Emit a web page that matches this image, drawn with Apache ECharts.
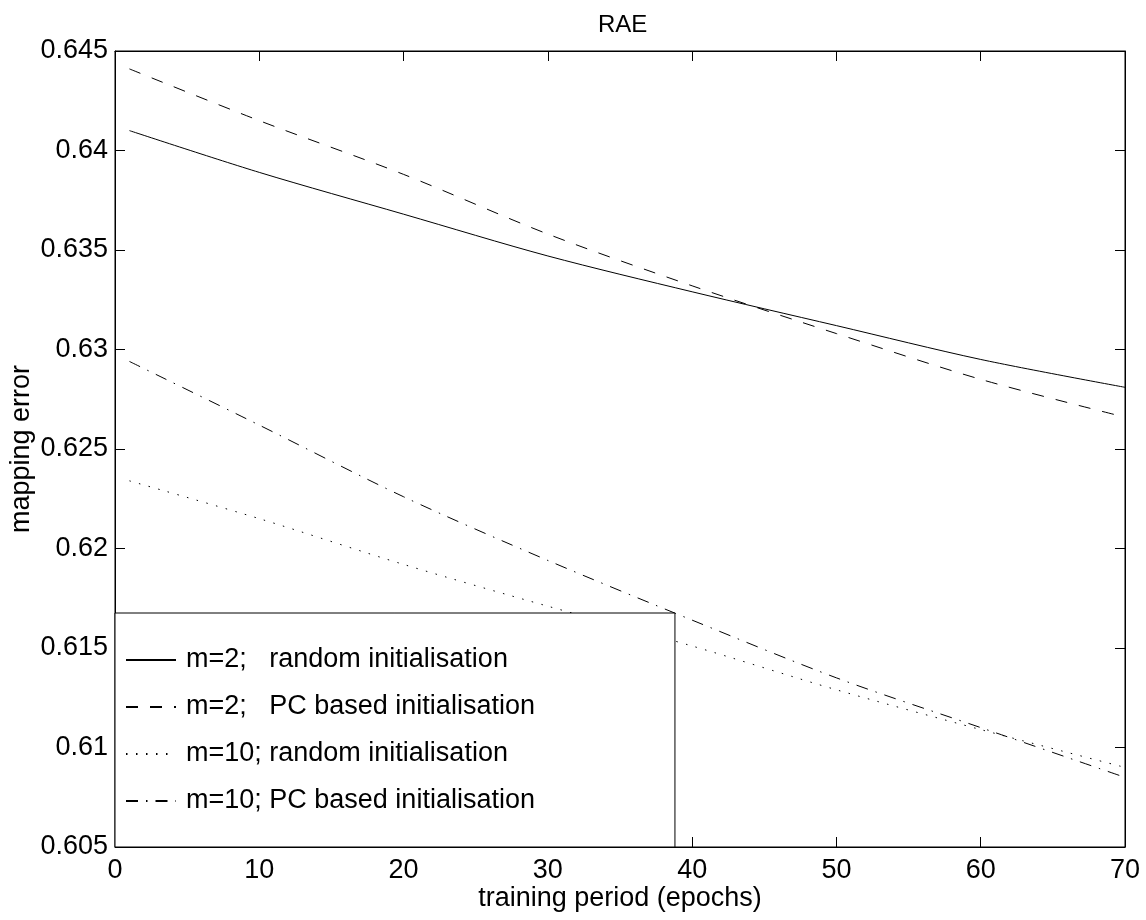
<!DOCTYPE html>
<html>
<head>
<meta charset="utf-8">
<title>RAE</title>
<script src="https://cdn.jsdelivr.net/npm/echarts@6/dist/echarts.min.js"></script>
<style>
  html, body { margin: 0; padding: 0; background: #fff; }
  #chart { width: 1146px; height: 920px; }
</style>
</head>
<body>
<div id="chart"></div>
<script>
// Training epochs at which the mapping error was recorded
const epochs = [1, 10, 20, 30, 40, 50, 60, 70];

// Mapping error per configuration
const m2Random  = [0.6410, 0.6389, 0.6368, 0.6347, 0.6329, 0.6312, 0.6295, 0.6281];
const m2PC      = [0.6441, 0.6415, 0.6388, 0.6358, 0.6332, 0.6308, 0.6285, 0.6266];
const m10Random = [0.6234, 0.6215, 0.6192, 0.6171, 0.6151, 0.6129, 0.6109, 0.6090];
const m10PC     = [0.6294, 0.6262, 0.6226, 0.6194, 0.6164, 0.6135, 0.6110, 0.6085];

const seriesNames = [
  'm=2;   random initialisation',
  'm=2;   PC based initialisation',
  'm=10; random initialisation',
  'm=10; PC based initialisation'
];

const FONT = "'Liberation Sans', Arial, Helvetica, sans-serif";
const FS = 27;

function pairs(ys) {
  return epochs.map((x, i) => [x, ys[i]]);
}

function lineSeries(name, ys, dash) {
  return {
    name: name,
    type: 'line',
    data: pairs(ys),
    smooth: 0.3,
    symbol: 'none',
    lineStyle: { color: '#000', width: 1, type: dash },
    itemStyle: { color: '#000' },
    emphasis: { disabled: true },
    z: 2
  };
}

function ticks() {
  return { show: true, inside: true, length: 10, lineStyle: { color: '#000', width: 1 } };
}

function axisLine() {
  return { show: true, onZero: false, lineStyle: { color: '#000', width: 1 } };
}

const chart = echarts.init(document.getElementById('chart'), null, { renderer: 'canvas' });

chart.setOption({
  animation: false,
  backgroundColor: '#fff',
  textStyle: { fontFamily: FONT },
  title: {
    text: 'RAE',
    left: 593,
    top: 8,
    textStyle: { fontFamily: FONT, fontSize: 24, fontWeight: 'normal', color: '#000' }
  },
  grid: {
    left: 115, right: 21, top: 51, bottom: 73,
    containLabel: false,
    outerBoundsMode: 'none',
    show: true, borderColor: '#000', borderWidth: 1, backgroundColor: 'transparent'
  },
  xAxis: [
    {
      type: 'value', min: 0, max: 70, interval: 10, position: 'bottom',
      name: 'training period (epochs)', nameLocation: 'middle', nameGap: 38,
      nameMoveOverlap: false,
      nameTextStyle: { fontFamily: FONT, fontSize: FS, color: '#000' },
      axisLine: axisLine(),
      axisTick: ticks(),
      axisLabel: { fontFamily: FONT, fontSize: FS, color: '#000', margin: 10 },
      splitLine: { show: false }
    },
    {
      type: 'value', min: 0, max: 70, interval: 10, position: 'top',
      axisLine: axisLine(),
      axisTick: ticks(),
      axisLabel: { show: false },
      splitLine: { show: false }
    }
  ],
  yAxis: [
    {
      type: 'value', min: 0.605, max: 0.645, interval: 0.005, position: 'left',
      name: 'mapping error', nameLocation: 'middle', nameGap: 80,
      nameMoveOverlap: false,
      nameTextStyle: { fontFamily: FONT, fontSize: FS, color: '#000' },
      axisLine: axisLine(),
      axisTick: ticks(),
      axisLabel: {
        fontFamily: FONT, fontSize: FS, color: '#000', margin: 7,
        formatter: v => String(parseFloat(v.toFixed(3)))
      },
      splitLine: { show: false }
    },
    {
      type: 'value', min: 0.605, max: 0.645, interval: 0.005, position: 'right',
      axisLine: axisLine(),
      axisTick: ticks(),
      axisLabel: { show: false },
      splitLine: { show: false }
    }
  ],
  legend: {
    data: seriesNames,
    orient: 'vertical',
    left: 115,
    bottom: 73,
    backgroundColor: '#fff',
    borderColor: '#000',
    borderWidth: 1,
    borderRadius: 0,
    padding: [32, 140, 31, 10],
    itemWidth: 50,
    itemHeight: 14,
    itemGap: 17,
    selectedMode: false,
    itemStyle: { opacity: 0 },
    textStyle: { fontFamily: FONT, fontSize: FS, color: '#000', lineHeight: 30, padding: [0, 0, 0, 5] },
    z: 10
  },
  series: [
    lineSeries(seriesNames[0], m2Random, 'solid'),
    lineSeries(seriesNames[1], m2PC, [12, 12]),
    lineSeries(seriesNames[2], m10Random, [1.5, 8.5]),
    lineSeries(seriesNames[3], m10PC, [12, 8, 1.5, 8])
  ]
});
</script>
</body>
</html>
